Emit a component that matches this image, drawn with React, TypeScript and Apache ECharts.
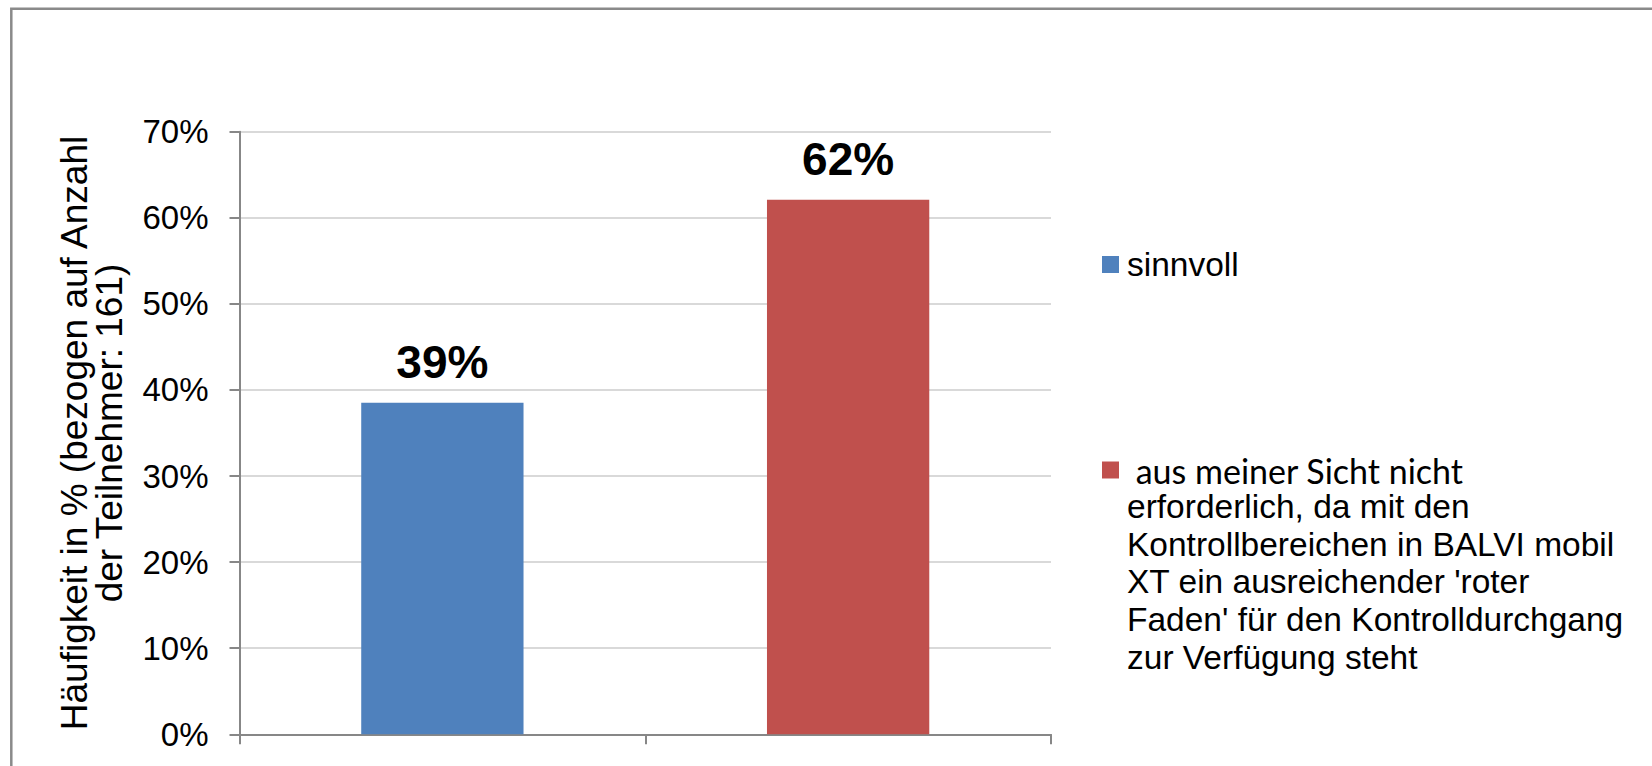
import React, { useEffect, useRef } from "react";
import * as echarts from "echarts";

const categories = ["sinnvoll", "nicht erforderlich"];
const seriesNames = [
  "sinnvoll",
  "aus meiner Sicht nicht erforderlich, da mit den Kontrollbereichen in BALVI mobil XT ein ausreichender 'roter Faden' für den Kontrolldurchgang zur Verfügung steht",
];
const sinnvollValues: (number | string)[] = [38.5, "-"];
const nichtErforderlichValues: (number | string)[] = ["-", 62.1];
const legendLines2 = [
  " aus meiner Sicht nicht",
  "erforderlich, da mit den",
  "Kontrollbereichen in BALVI mobil",
  "XT ein ausreichender 'roter",
  "Faden' für den Kontrolldurchgang",
  "zur Verfügung steht",
];
const yAxisTitle = "Häufigkeit in % (bezogen auf Anzahl\nder Teilnehmer: 161)";
const yMax = 70;
const yInterval = 10;

const FONT = "'Liberation Sans', Arial, sans-serif";
const AXIS_GRAY = "#878787";

export default function App() {
  const ref = useRef<HTMLDivElement>(null);
  useEffect(() => {
    if (!ref.current) return;
    const chart = echarts.init(ref.current, null, { renderer: "svg" });
    const labelOpt = {
      show: true,
      position: "top",
      distance: 18,
      fontFamily: FONT,
      fontSize: 46,
      lineHeight: 46,
      fontWeight: "bold",
      color: "#000",
      formatter: (p: any) => Math.round(p.value) + "%",
    };
    chart.setOption({
      animation: false,
      textStyle: { fontFamily: FONT },
      graphic: [
        {
          type: "rect",
          shape: { x: 11.3, y: 8.7, width: 3000, height: 3000 },
          style: { fill: "none", stroke: "#8a8a8a", lineWidth: 2.5 },
          silent: true,
        },
      ],
      grid: { left: 239.5, right: 601, top: 131.7, bottom: 31.7 },
      legend: [
        {
          data: [seriesNames[0]],
          left: 1102,
          top: 245,
          padding: 0,
          icon: "rect",
          itemWidth: 17,
          itemHeight: 17,
          selectedMode: false,
          textStyle: {
            fontFamily: FONT,
            fontSize: 33.5,
            lineHeight: 39,
            color: "#000",
            padding: [0, 0, 0, 3],
          },
        },
        {
          data: [seriesNames[1]],
          left: 1102,
          top: 453,
          padding: 0,
          icon: "rect",
          itemWidth: 17,
          itemHeight: 17,
          selectedMode: false,
          formatter: () =>
            legendLines2
              .map((l, i) =>
                i === 0 ? "{a|" + l.replace(/^ /, "\u00a0") + "}" : "{b|" + l + "}"
              )
              .join("\n"),
          textStyle: {
            color: "#000",
            padding: [188.5, 0, 0, 3],
            rich: {
              a: { fontFamily: "Lato", fontSize: 34, lineHeight: 35, color: "#000" },
              b: { fontFamily: FONT, fontSize: 33.5, lineHeight: 37.7, color: "#000" },
            },
          },
        },
      ],
      xAxis: {
        type: "category",
        data: categories,
        axisLine: { show: true, lineStyle: { color: AXIS_GRAY, width: 2 } },
        axisTick: { show: true, length: 10, interval: 0, lineStyle: { color: AXIS_GRAY, width: 2 } },
        axisLabel: { show: false },
        splitLine: { show: false },
      },
      yAxis: {
        type: "value",
        min: 0,
        max: yMax,
        interval: yInterval,
        name: yAxisTitle,
        nameLocation: "middle",
        nameRotate: 90,
        nameGap: 112.5,
        nameTextStyle: { fontFamily: FONT, fontSize: 37, lineHeight: 35, color: "#000" },
        axisLine: { show: true, lineStyle: { color: AXIS_GRAY, width: 2 } },
        axisTick: { show: true, length: 10, lineStyle: { color: AXIS_GRAY, width: 2 } },
        axisLabel: {
          formatter: "{value}%",
          fontFamily: FONT,
          fontSize: 33,
          color: "#000",
          margin: 31,
        },
        splitLine: { show: true, lineStyle: { color: "#d9d9d9", width: 2 } },
      },
      series: [
        {
          name: seriesNames[0],
          type: "bar",
          stack: "total",
          barWidth: "40%",
          data: sinnvollValues,
          itemStyle: { color: "#4F81BD" },
          label: labelOpt,
        },
        {
          name: seriesNames[1],
          type: "bar",
          stack: "total",
          barWidth: "40%",
          data: nichtErforderlichValues,
          itemStyle: { color: "#C0504D" },
          label: labelOpt,
        },
      ],
    });
    return () => chart.dispose();
  }, []);
  return (
    <div
      ref={ref}
      style={{ position: "absolute", left: 0, top: 0, width: 1652, height: 766, background: "#fff" }}
    />
  );
}
